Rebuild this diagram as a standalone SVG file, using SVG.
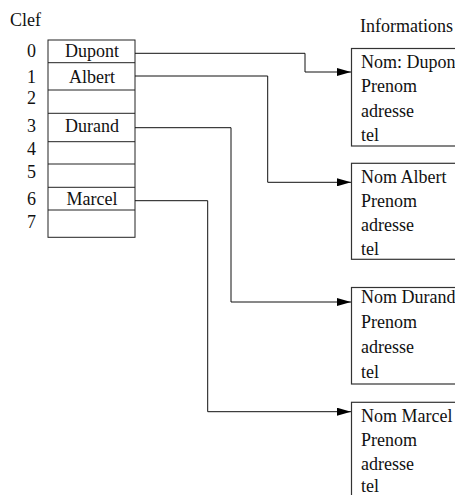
<svg xmlns="http://www.w3.org/2000/svg" width="455" height="495" viewBox="0 0 455 495">
  <style>
    text { font-family: "Liberation Serif", "Times New Roman", serif; font-size: 18px; fill: #111; }
    .mid { text-anchor: middle; }
    .cell { fill: #fff; stroke: #222; stroke-width: 1; }
    .rec { fill: #fff; stroke: #333; stroke-width: 1.2; }
    .link { fill: none; stroke: #111; stroke-width: 1; marker-end: url(#arrow); }
  </style>
  <defs>
    <marker id="arrow" viewBox="0 0 14 8" refX="14" refY="4" markerWidth="14" markerHeight="8" markerUnits="userSpaceOnUse" orient="auto">
      <path d="M0,0 L14,4 L0,8 Z" fill="#000"/>
    </marker>
  </defs>
  <rect width="455" height="495" fill="#fff"/>

  <!-- hash table of keys -->
  <g id="table">
    <text x="10" y="26">Clef</text>
    <rect class="cell" x="48" y="40" width="87" height="197.3"/>
    <g stroke="#222" stroke-width="1">
      <line x1="48" y1="62.7" x2="135" y2="62.7"/>
      <line x1="48" y1="90" x2="135" y2="90"/>
      <line x1="48" y1="113.3" x2="135" y2="113.3"/>
      <line x1="48" y1="141.7" x2="135" y2="141.7"/>
      <line x1="48" y1="164" x2="135" y2="164"/>
      <line x1="48" y1="187.3" x2="135" y2="187.3"/>
      <line x1="48" y1="210" x2="135" y2="210"/>
    </g>
    <text x="27" y="57">0</text>
    <text x="27" y="83">1</text>
    <text x="27" y="104">2</text>
    <text x="27" y="132">3</text>
    <text x="27" y="155">4</text>
    <text x="27" y="178">5</text>
    <text x="27" y="205">6</text>
    <text x="27" y="228">7</text>
    <text class="mid" x="92" y="57">Dupont</text>
    <text class="mid" x="92" y="83">Albert</text>
    <text class="mid" x="92" y="132">Durand</text>
    <text class="mid" x="92" y="205">Marcel</text>
  </g>

  <text x="360" y="32">Informations</text>

  <!-- information records -->
  <g id="rec-dupont">
    <rect class="rec" x="351.5" y="48.5" width="120" height="97.5"/>
    <text x="361" y="68">Nom: Dupon</text>
    <text x="361" y="92.3">Prenom</text>
    <text x="361" y="116.6">adresse</text>
    <text x="361" y="141">tel</text>
  </g>
  <g id="rec-albert">
    <rect class="rec" x="351.5" y="163.3" width="120" height="96"/>
    <text x="361" y="183">Nom Albert</text>
    <text x="361" y="207">Prenom</text>
    <text x="361" y="231">adresse</text>
    <text x="361" y="255">tel</text>
  </g>
  <g id="rec-durand">
    <rect class="rec" x="351.5" y="287.5" width="120" height="96.5"/>
    <text x="361" y="303">Nom Durand</text>
    <text x="361" y="328">Prenom</text>
    <text x="361" y="353">adresse</text>
    <text x="361" y="378">tel</text>
  </g>
  <g id="rec-marcel">
    <rect class="rec" x="351.5" y="402.3" width="120" height="110"/>
    <text x="361" y="421.5">Nom Marcel</text>
    <text x="361" y="446">Prenom</text>
    <text x="361" y="470">adresse</text>
    <text x="361" y="492">tel</text>
  </g>

  <!-- pointers from keys to records -->
  <g id="connectors">
    <path class="link" d="M135,53.3 H305 V72 H351"/>
    <path class="link" d="M135,76 H267.7 V182.3 H351"/>
    <path class="link" d="M135,127.7 H231 V302 H351"/>
    <path class="link" d="M135,200.7 H207.7 V411.7 H351"/>
  </g>
</svg>
